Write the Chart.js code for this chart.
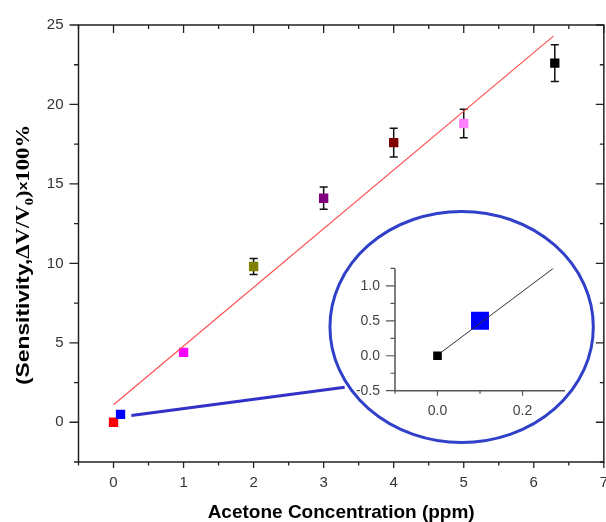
<!DOCTYPE html>
<html><head><meta charset="utf-8">
<script src="https://cdn.jsdelivr.net/npm/chart.js@4.4.1/dist/chart.umd.min.js"></script>
<style>
html,body{margin:0;padding:0;background:#fff;overflow:hidden;width:606px;height:522px;}
#wrap{position:relative;width:620px;height:522px;}
#main{position:absolute;left:0;top:0;}
#inset{position:absolute;left:340px;top:245px;}
</style></head><body>
<div id="wrap">
<canvas id="main" width="620" height="522" style="width:620px;height:522px"></canvas>
<canvas id="inset" width="240" height="180" style="width:240px;height:180px"></canvas>
</div>
<script>
// ---- data ----
const concentration = [0, 0.1, 1, 2, 3, 4, 5, 6.3];
const sensitivity = [0, 0.5, 4.4, 9.8, 14.1, 17.6, 18.8, 22.6];
const sensitivityErr = [0, 0.2, 0, 0.5, 0.7, 0.9, 0.9, 1.15];
const fitX = [0, 6.28];
const fitY = [1.1, 24.3];
const zoomLineX = [0.255, 3.30];
const zoomLineY = [0.42, 2.2];
const zoomEllipseCenter = [4.97, 6.0];
const zoomEllipseRadius = [1.88, 7.27];
const xTickLabels = [0, 1, 2, 3, 4, 5, 6, 7];
const yTickLabels = [0, 5, 10, 15, 20, 25];
const insetX = [0, 0.1];
const insetY = [0, 0.5];
const insetFitX = [0.01, 0.28];
const insetFitY = [0.055, 1.285];
const insetXTicks = [0.0, 0.2];
const insetYTicks = [-0.5, 0.0, 0.5, 1.0];

// ---- styles ----
const pointColors = ['#ff0000', '#0000ff', '#ff00ff', '#808000', '#800080', '#800000', '#ff80ff', '#000000'];
const tickFont = {family: '"Liberation Sans", Arial, sans-serif', size: 15};
const tickColor = '#333';

const zip = (xs, ys) => xs.map((v, i) => ({x: v, y: ys[i]}));

const errorBars = {
  id: 'errorBars',
  beforeDatasetsDraw(chart) {
    const {ctx, scales: {x, y}} = chart;
    ctx.save();
    ctx.strokeStyle = '#111';
    ctx.lineWidth = 1.5;
    ctx.beginPath();
    concentration.forEach((cx, i) => {
      const e = sensitivityErr[i];
      if (!e) return;
      const px = x.getPixelForValue(cx);
      const top = y.getPixelForValue(sensitivity[i] + e);
      const bot = y.getPixelForValue(sensitivity[i] - e);
      ctx.moveTo(px, top); ctx.lineTo(px, bot);
      ctx.moveTo(px - 4, top); ctx.lineTo(px + 4, top);
      ctx.moveTo(px - 4, bot); ctx.lineTo(px + 4, bot);
    });
    ctx.stroke();
    ctx.restore();
  }
};

const zoomEllipse = {
  id: 'zoomEllipse',
  afterDatasetsDraw(chart) {
    const {ctx, scales: {x, y}} = chart;
    const cx = x.getPixelForValue(zoomEllipseCenter[0]);
    const cy = y.getPixelForValue(zoomEllipseCenter[1]);
    const rx = Math.abs(x.getPixelForValue(zoomEllipseCenter[0] + zoomEllipseRadius[0]) - cx);
    const ry = Math.abs(y.getPixelForValue(zoomEllipseCenter[1] + zoomEllipseRadius[1]) - cy);
    ctx.save();
    ctx.strokeStyle = '#3040c8';
    ctx.lineWidth = 3;
    ctx.beginPath();
    ctx.ellipse(cx, cy, rx, ry, 0, 0, Math.PI * 2);
    ctx.stroke();
    ctx.restore();
  }
};

const mainAxes = {
  id: 'mainAxes',
  afterDraw(chart) {
    const {ctx, chartArea: a, scales: {x, y}} = chart;
    ctx.save();
    ctx.strokeStyle = '#222';
    ctx.lineWidth = 1.5;
    ctx.strokeRect(a.left, a.top, a.right - a.left, a.bottom - a.top);
    ctx.lineWidth = 1.3;
    ctx.beginPath();
    for (let k = -1; k <= 14; k++) {
      const v = k / 2;
      const px = x.getPixelForValue(v);
      const major = k % 2 === 0;
      ctx.moveTo(px, a.bottom); ctx.lineTo(px, a.bottom + (major ? 6 : 3.5));
      ctx.moveTo(px, a.top); ctx.lineTo(px, a.top + (major ? 8 : 4));
    }
    for (let k = -1; k <= 10; k++) {
      const v = k * 2.5;
      const py = y.getPixelForValue(v);
      const major = k % 2 === 0;
      ctx.moveTo(a.left, py); ctx.lineTo(a.left - (major ? 9 : 4.5), py);
      ctx.moveTo(a.right, py); ctx.lineTo(a.right - (major ? 8 : 4), py);
    }
    ctx.stroke();

    // y title
    ctx.translate(29, 385);
    ctx.rotate(-Math.PI / 2);
    ctx.scale(1.2, 1);
    ctx.fillStyle = '#000';
    ctx.textBaseline = 'alphabetic';
    ctx.textAlign = 'left';
    let cx = 0;
    const seg = (text, font, dy) => {
      ctx.font = font;
      ctx.fillText(text, cx, dy || 0);
      cx += ctx.measureText(text).width;
    };
    seg('(Sensitivity,', 'bold 19px "Liberation Sans", Arial, sans-serif');
    seg('\u0394V/V', 'bold 19px "Liberation Serif", "Times New Roman", serif');
    seg('0', 'bold 12px "Liberation Serif", "Times New Roman", serif', 4);
    seg(')', 'bold 19px "Liberation Serif", "Times New Roman", serif');
    seg('x', 'bold 13px "Liberation Sans", Arial, sans-serif', -2);
    seg('100%', 'bold 19px "Liberation Serif", "Times New Roman", serif');
    ctx.restore();
  }
};

new Chart(document.getElementById('main'), {
  type: 'scatter',
  data: {
    datasets: [
      {
        type: 'line', data: zip(fitX, fitY), showLine: true,
        borderColor: '#ff5050', borderWidth: 1.2, pointRadius: 0, fill: false
      },
      {
        type: 'line', data: zip(zoomLineX, zoomLineY), showLine: true,
        borderColor: '#3232c8', borderWidth: 3, pointRadius: 0, fill: false
      },
      {
        data: zip(concentration, sensitivity),
        pointStyle: 'rect', pointRadius: 6.6, pointHoverRadius: 6.6,
        backgroundColor: pointColors, borderWidth: 0
      }
    ]
  },
  options: {
    responsive: false, animation: false, devicePixelRatio: 1,
    layout: {padding: {left: 0, top: 25, right: 10.5, bottom: 0}},
    plugins: {legend: {display: false}, tooltip: {enabled: false}},
    scales: {
      x: {
        type: 'linear', min: -0.5, max: 7,
        grid: {display: false, drawTicks: false}, border: {display: false},
        afterBuildTicks: s => { s.ticks = xTickLabels.map(v => ({value: v})); },
        afterFit: s => { s.height = 60; },
        ticks: {font: tickFont, color: tickColor, padding: 12, maxRotation: 0, autoSkip: false},
        title: {
          display: true, text: 'Acetone Concentration (ppm)', color: '#000',
          font: {family: '"Liberation Sans", Arial, sans-serif', size: 19, weight: 'bold', lineHeight: 1},
          padding: 0
        }
      },
      y: {
        type: 'linear', min: -2.5, max: 25,
        grid: {display: false, drawTicks: false}, border: {display: false},
        afterBuildTicks: s => { s.ticks = yTickLabels.map(v => ({value: v})); },
        afterFit: s => { s.width = 78.5; },
        ticks: {font: tickFont, color: tickColor, padding: 15, autoSkip: false}
      }
    }
  },
  plugins: [errorBars, zoomEllipse, mainAxes]
});

// ---- inset ----
const insetAxes = {
  id: 'insetAxes',
  afterDraw(chart) {
    const {ctx, chartArea: a, scales: {x, y}} = chart;
    ctx.save();
    ctx.strokeStyle = '#555';
    ctx.lineWidth = 1.5;
    ctx.beginPath();
    ctx.moveTo(a.left, a.top); ctx.lineTo(a.left, a.bottom); ctx.lineTo(a.right, a.bottom);
    ctx.stroke();
    ctx.lineWidth = 1.2;
    ctx.beginPath();
    for (let k = -1; k <= 2; k++) {
      const px = x.getPixelForValue(k / 10);
      const major = k % 2 === 0;
      ctx.moveTo(px, a.bottom); ctx.lineTo(px, a.bottom + (major ? 5 : 3));
    }
    for (let k = -2; k <= 5; k++) {
      const py = y.getPixelForValue(k / 4);
      const major = k % 2 === 0;
      ctx.moveTo(a.left, py); ctx.lineTo(a.left - (major ? 9 : 4.5), py);
    }
    ctx.stroke();
    ctx.restore();
  }
};

new Chart(document.getElementById('inset'), {
  type: 'scatter',
  data: {
    datasets: [
      {
        type: 'line', data: zip(insetFitX, insetFitY), showLine: true,
        borderColor: '#333', borderWidth: 1, pointRadius: 0, fill: false
      },
      {
        data: zip(insetX, insetY),
        pointStyle: 'rect', pointRadius: [6.1, 12.7], pointHoverRadius: [6.1, 12.7],
        backgroundColor: ['#000000', '#0000ff'], borderWidth: 0
      }
    ]
  },
  options: {
    responsive: false, animation: false, devicePixelRatio: 1,
    layout: {padding: {left: 0, top: 11.7, right: 15, bottom: 0}},
    plugins: {legend: {display: false}, tooltip: {enabled: false}},
    scales: {
      x: {
        type: 'linear', min: -0.1, max: 0.3,
        grid: {display: false, drawTicks: false}, border: {display: false},
        afterBuildTicks: s => { s.ticks = insetXTicks.map(v => ({value: v})); },
        afterFit: s => { s.height = 34.3; },
        ticks: {font: {family: '"Liberation Sans", Arial, sans-serif', size: 14}, color: '#444', padding: 12,
          maxRotation: 0, autoSkip: false, callback: v => v.toFixed(1)}
      },
      y: {
        type: 'linear', min: -0.5, max: 1.25,
        grid: {display: false, drawTicks: false}, border: {display: false},
        afterBuildTicks: s => { s.ticks = insetYTicks.map(v => ({value: v})); },
        afterFit: s => { s.width = 55; },
        ticks: {font: {family: '"Liberation Sans", Arial, sans-serif', size: 14}, color: '#444', padding: 15,
          autoSkip: false, callback: v => v.toFixed(1)}
      }
    }
  },
  plugins: [insetAxes]
});
</script>
</body></html>
